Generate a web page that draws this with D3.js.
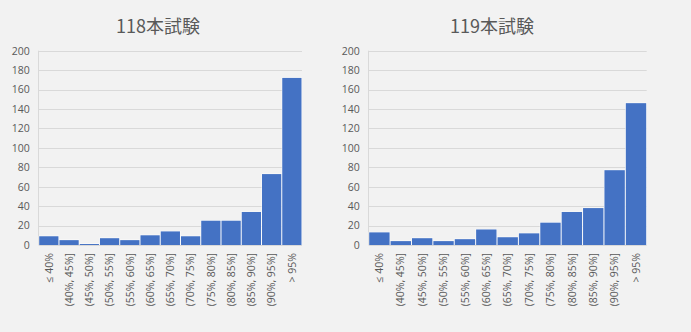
<!DOCTYPE html>
<html><head><meta charset="utf-8">
<script src="https://cdn.jsdelivr.net/npm/d3@7"></script>
<style>
html,body{margin:0;padding:0;background:#f2f2f2;}
svg{display:block;}
</style></head>
<body>
<svg id="c" width="691" height="332"></svg>
<script>
const categories = ["≤ 40%","(40%, 45%]","(45%, 50%]","(50%, 55%]","(55%, 60%]","(60%, 65%]","(65%, 70%]","(70%, 75%]","(75%, 80%]","(80%, 85%]","(85%, 90%]","(90%, 95%]","> 95%"];
const values118 = [9,5,1,7,5,10,14,9,25,25,34,73,172];
const values119 = [13,4,7,4,6,16,8,12,23,34,38,77,146];
const yTicks = [0,20,40,60,80,100,120,140,160,180,200];
const titles = ["118本試験","119本試験"];

const svg = d3.select("#c");
svg.append("rect").attr("width",691).attr("height",332).attr("fill","#f2f2f2");

const panels = [
  {title:titles[0], values:values118, x0:38.7, x1:302, tx:158},
  {title:titles[1], values:values119, x0:368.7, x1:646.7, tx:492}
];
const yTop = 50.7, yBot = 245;
const font = "'Open Sans','Noto Sans',sans-serif";

panels.forEach(p=>{
  const g = svg.append("g");
  const x = d3.scaleBand().domain(categories).range([p.x0,p.x1]).padding(0);
  const y = d3.scaleLinear().domain([0,200]).range([yBot,yTop]);

  // gridlines
  g.append("g").selectAll("line").data(yTicks).join("line")
    .attr("x1",p.x0).attr("x2",p.x1)
    .attr("y1",d=>Math.round(y(d))+0.5).attr("y2",d=>Math.round(y(d))+0.5)
    .attr("stroke","#d9d9d9").attr("stroke-width",1);
  g.append("line").attr("x1",Math.round(p.x0)-0.5).attr("x2",Math.round(p.x0)-0.5)
    .attr("y1",y(200)).attr("y2",y(0)).attr("stroke","#d9d9d9");

  // y axis
  const ya = g.append("g").attr("transform",`translate(${p.x0},0)`)
    .call(d3.axisLeft(y).tickValues(yTicks).tickSize(0).tickPadding(9));
  ya.select(".domain").remove();
  ya.selectAll("text").attr("fill","#595959").attr("font-size","10.5px").attr("font-family",font);

  // bars: white border underlay + blue fill
  const bars = g.append("g");
  bars.selectAll("rect.b").data(p.values).join("rect").attr("class","b")
    .attr("x",(d,i)=>x(categories[i]))
    .attr("width",x.bandwidth())
    .attr("y",d=>y(d)-0.5)
    .attr("height",d=>y(0)-y(d)+0.5)
    .attr("fill","#ffffff");
  bars.selectAll("rect.f").data(p.values).join("rect").attr("class","f")
    .attr("x",(d,i)=>x(categories[i])+0.5)
    .attr("width",x.bandwidth()-1)
    .attr("y",d=>y(d))
    .attr("height",d=>y(0)-y(d))
    .attr("fill","#4472c4");

  // x axis
  const xa = g.append("g").attr("transform",`translate(0,${yBot})`)
    .call(d3.axisBottom(x).tickSize(0).tickPadding(0));
  xa.select(".domain").remove();
  xa.selectAll("text")
    .attr("transform","rotate(-90)")
    .attr("text-anchor","end")
    .attr("x",-8).attr("y",0).attr("dy","0.35em")
    .attr("fill","#595959").attr("font-size","10.5px").attr("font-family",font);

  // title
  svg.append("text").attr("x",p.tx).attr("y",33).attr("text-anchor","middle")
    .attr("font-family","'Noto Sans CJK JP','Noto Sans',sans-serif").attr("font-size","18px")
    .attr("fill","#595959").text(p.title);
});
</script>
</body></html>
